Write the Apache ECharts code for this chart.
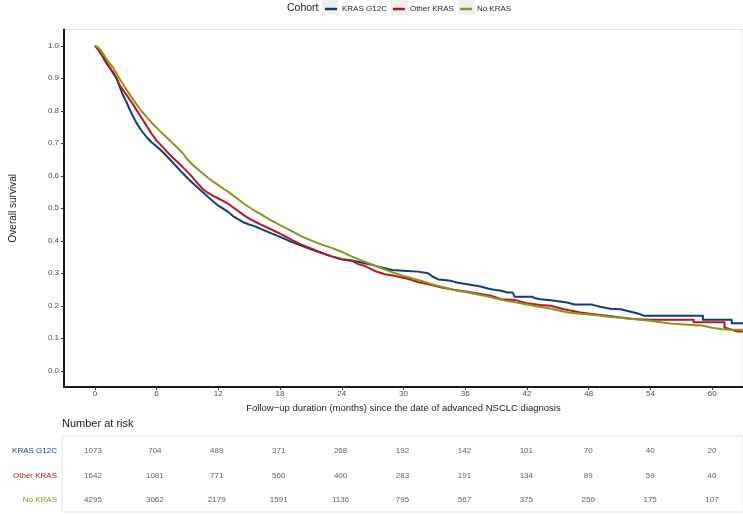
<!DOCTYPE html>
<html>
<head>
<meta charset="utf-8">
<script src="https://cdn.jsdelivr.net/npm/echarts@6/dist/echarts.min.js"></script>
<style>html,body{margin:0;padding:0;background:#fff;}#c{width:743px;height:515px;}</style>
</head>
<body>
<div id="c"></div>
<script>
const cohorts = ['KRAS G12C', 'Other KRAS', 'No KRAS'];
const colors = ['#103d72', '#b3191e', '#87941d'];

// Kaplan-Meier estimates (repeated times = vertical step drops)
const g12cTime = [0,0.3,0.6,0.9,1.2,1.5,1.8,2.1,2.4,2.7,3.0,3.3,3.6,4.0,4.5,5.0,5.5,6.0,6.5,7.0,7.5,8.0,8.5,9.0,9.5,10,10.5,11,11.5,12,12.5,13,13.5,14,14.5,15,15.5,16,17,18,19,20,21,22,23,24,25,26,27,28,28.9,30,31.4,32.4,32.8,33.4,34.4,35.3,36.2,37.5,38.2,38.8,39.5,40.1,40.6,40.8,42.5,42.7,43.3,44.3,45.9,46.6,48.3,48.5,49.1,50.1,51.1,52.4,53.0,53.4,59.1,59.1,61.9,61.9,63];
const g12cSurv = [1.0,0.99,0.975,0.962,0.945,0.93,0.915,0.9,0.875,0.85,0.832,0.81,0.79,0.765,0.74,0.72,0.703,0.69,0.676,0.66,0.643,0.626,0.609,0.593,0.578,0.563,0.549,0.535,0.521,0.508,0.498,0.488,0.474,0.465,0.456,0.45,0.445,0.438,0.425,0.412,0.398,0.386,0.374,0.363,0.352,0.343,0.339,0.332,0.325,0.317,0.31,0.308,0.305,0.3,0.29,0.281,0.278,0.271,0.266,0.259,0.253,0.249,0.246,0.241,0.241,0.228,0.228,0.224,0.22,0.217,0.21,0.204,0.204,0.202,0.197,0.191,0.189,0.179,0.174,0.169,0.169,0.157,0.157,0.146,0.146];

const otherTime = [0,0.3,0.6,0.9,1.2,1.5,1.8,2.1,2.4,2.7,3.0,3.3,3.6,4.0,4.5,5.0,5.5,6.0,6.5,7.0,7.5,8.0,8.5,9.0,9.5,10,10.5,11,11.5,12,12.5,13,13.5,14,14.5,15,15.5,16,17,18,19,20,21,22,23,24,25,25.6,26.2,27.2,28.2,29.1,30.4,31.4,32.4,33.7,34.9,36.2,37.5,38.5,39.5,40.8,42.0,43.3,44.3,45.6,47.2,48.5,49.8,51.1,52.4,54.0,58.2,58.2,61.2,61.2,61.9,62.5,63];
const otherSurv = [1.0,0.99,0.975,0.958,0.942,0.93,0.918,0.9,0.88,0.865,0.852,0.838,0.825,0.805,0.78,0.755,0.73,0.708,0.692,0.674,0.658,0.643,0.628,0.612,0.595,0.576,0.559,0.547,0.538,0.53,0.522,0.513,0.501,0.49,0.478,0.468,0.46,0.452,0.437,0.422,0.405,0.389,0.376,0.363,0.352,0.343,0.338,0.328,0.323,0.307,0.297,0.292,0.283,0.273,0.266,0.256,0.249,0.243,0.236,0.231,0.22,0.218,0.208,0.202,0.2,0.189,0.179,0.174,0.169,0.164,0.159,0.157,0.157,0.149,0.149,0.133,0.126,0.121,0.121];

const noTime = [0,0.3,0.6,0.9,1.2,1.5,1.8,2.1,2.4,2.7,3.0,3.5,4.0,4.5,5.0,5.5,6.0,6.5,7.0,7.5,8.0,8.5,9.0,9.5,10,10.5,11,11.5,12,12.5,13,13.5,14,14.5,15,15.5,16,17,18,19,20,21,22,23,24,25,26,27,28,29,30,31,32,33,34,35,36,37,38,39,40,41,42,43,44,45,46,47,48,49,50,51,52,53,54,55,56,57,58,59,60,61,62,63];
const noSurv = [1.0,0.995,0.985,0.97,0.955,0.943,0.932,0.915,0.898,0.884,0.868,0.845,0.822,0.8,0.782,0.764,0.748,0.732,0.717,0.702,0.687,0.671,0.65,0.634,0.62,0.607,0.594,0.582,0.571,0.56,0.55,0.538,0.526,0.514,0.503,0.493,0.484,0.465,0.448,0.432,0.415,0.401,0.389,0.378,0.366,0.351,0.338,0.326,0.314,0.302,0.292,0.283,0.274,0.264,0.256,0.248,0.242,0.236,0.23,0.222,0.215,0.21,0.204,0.198,0.193,0.186,0.179,0.176,0.173,0.17,0.166,0.163,0.16,0.157,0.154,0.149,0.145,0.143,0.141,0.139,0.132,0.128,0.126,0.126];

const xTicks = [0,6,12,18,24,30,36,42,48,54,60];
const yTicks = [0,0.1,0.2,0.3,0.4,0.5,0.6,0.7,0.8,0.9,1.0];
const riskTimes = [0,6,12,18,24,30,36,42,48,54,60];
const g12cRisk = [1073,704,489,371,268,192,142,101,70,40,20];
const otherRisk = [1642,1081,771,560,400,283,191,134,89,59,40];
const noRisk = [4295,3062,2179,1591,1136,795,567,375,250,175,107];

const FONT = '"Liberation Sans", Arial, sans-serif';
const pair = (t, s) => t.map((x, i) => [x, s[i]]);
const curves = [pair(g12cTime, g12cSurv), pair(otherTime, otherSurv), pair(noTime, noSurv)];
const risks = [g12cRisk, otherRisk, noRisk];

const series = curves.map((d, i) => ({
  name: cohorts[i], type: 'line', data: d,
  xAxisIndex: 0, yAxisIndex: 0, showSymbol: false, symbol: 'none',
  lineStyle: { color: colors[i], width: 2, join: 'round' }, itemStyle: { color: colors[i] },
  clip: true, z: 2 + i, animation: false
}));

const riskData = [];
risks.forEach((arr, r) => arr.forEach((v, j) => riskData.push([riskTimes[j], r + 1, v])));
series.push({
  type: 'scatter', xAxisIndex: 1, yAxisIndex: 1, data: riskData, symbolSize: 0,
  label: { show: true, position: 'inside', formatter: p => String(p.value[2]),
    fontFamily: FONT, fontSize: 8, color: '#333' },
  animation: false, silent: true
});

const chart = echarts.init(document.getElementById('c'), null, { renderer: 'canvas' });
chart.setOption({
  backgroundColor: '#fff',
  animation: false,
  legend: {
    data: cohorts, left: 320, top: 0, icon: 'rect', itemWidth: 12, itemHeight: 2.5,
    itemGap: 6, textStyle: { fontFamily: FONT, fontSize: 8, color: '#1a1a1a' },
    selectedMode: false
  },
  graphic: [
    { type: 'rect', left: 322, top: 0, shape: { width: 17, height: 15 }, style: { fill: '#f0f0f0' }, z: -1 },
    { type: 'rect', left: 391, top: 0, shape: { width: 17, height: 15 }, style: { fill: '#f0f0f0' }, z: -1 },
    { type: 'rect', left: 458, top: 0, shape: { width: 17, height: 15 }, style: { fill: '#f0f0f0' }, z: -1 },
    { type: 'text', left: 287, top: 3, style: { text: 'Cohort', font: '10.5px ' + FONT, fill: '#1a1a1a' } },
    { type: 'text', left: 62, top: 418, style: { text: 'Number at risk', font: '11px ' + FONT, fill: '#1a1a1a' } }
  ],
  grid: [
    { left: 62, right: 0, top: 29.5, bottom: 128, show: true, borderColor: '#e3e3e3', borderWidth: 1, containLabel: false },
    { left: 62, right: 0, top: 436, bottom: 3, show: true, borderColor: '#e0e0e0', borderWidth: 1, containLabel: false }
  ],
  xAxis: [
    { type: 'value', gridIndex: 0, min: -3, max: 63,
      name: 'Follow\u2212up duration (months) since the date of advanced NSCLC diagnosis',
      nameLocation: 'middle', nameGap: 16,
      nameTextStyle: { fontFamily: FONT, fontSize: 9.5, color: '#1a1a1a' },
      axisLine: { show: true, onZero: false, lineStyle: { color: '#1a1a1a', width: 2 } },
      axisTick: { show: true, length: 3, customValues: xTicks, lineStyle: { color: '#333', width: 1 } },
      axisLabel: { customValues: xTicks, fontFamily: FONT, fontSize: 8, color: '#4d4d4d', margin: 3 },
      splitLine: { show: false } },
    { type: 'value', gridIndex: 1, min: -3, max: 63, show: false, splitLine: { show: false } }
  ],
  yAxis: [
    { type: 'value', gridIndex: 0, min: -0.05, max: 1.05,
      name: 'Overall survival', nameLocation: 'middle', nameGap: 46, nameRotate: 90,
      nameTextStyle: { fontFamily: FONT, fontSize: 10, color: '#1a1a1a' },
      axisLine: { show: true, onZero: false, lineStyle: { color: '#1a1a1a', width: 2 } },
      axisTick: { show: true, length: 3, customValues: yTicks, lineStyle: { color: '#333', width: 1 } },
      axisLabel: { customValues: yTicks, formatter: v => v.toFixed(1), fontFamily: FONT, fontSize: 8, color: '#4d4d4d', margin: 5 },
      splitLine: { show: false } },
    { type: 'value', gridIndex: 1, min: 0.375, max: 3.5, inverse: true,
      axisLine: { show: false }, axisTick: { show: false }, splitLine: { show: false },
      axisLabel: { customValues: [1, 2, 3], margin: 5,
        formatter: v => '{r' + (v - 1) + '|' + cohorts[v - 1] + '}',
        rich: { r0: { color: colors[0], fontFamily: FONT, fontSize: 8 },
                r1: { color: colors[1], fontFamily: FONT, fontSize: 8 },
                r2: { color: colors[2], fontFamily: FONT, fontSize: 8 } } } }
  ],
  series: series
});
</script>
</body>
</html>
